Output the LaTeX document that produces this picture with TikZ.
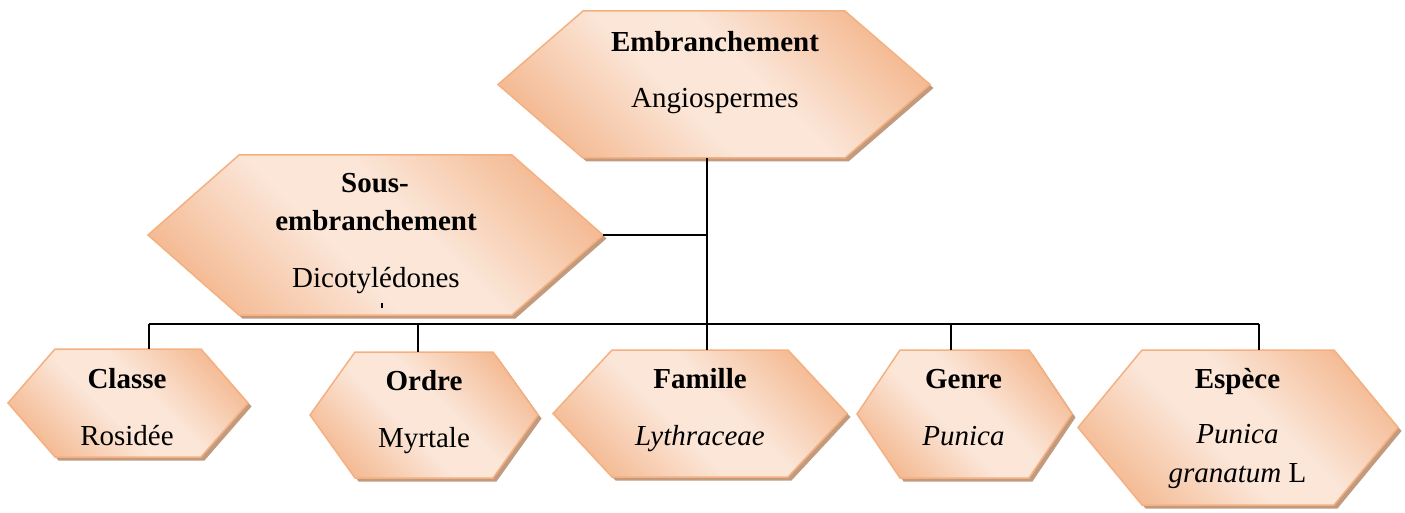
\documentclass[tikz,border=0pt]{standalone}
\usepackage{fontspec}
\setmainfont{Liberation Serif}
\usetikzlibrary{calc}
\definecolor{pdark}{HTML}{F2AE80}
\definecolor{plight}{HTML}{FBE6D8}
\definecolor{pborder}{HTML}{F4B080}
\definecolor{pshadow}{HTML}{C29A7E}
\pgfdeclarehorizontalshading{peach}{100bp}{color(0bp)=(pdark); color(18bp)=(pdark); color(44bp)=(plight); color(56bp)=(plight); color(82bp)=(pdark); color(100bp)=(pdark)}
\tikzset{
  hexbox/.style={shape=rectangle, draw=none, inner sep=0pt, outer sep=0pt},
  hexfill/.style={shading=peach, shading angle=45, draw=pborder, line width=1.5pt, line join=miter},
  shadowfill/.style={fill=pshadow, transform canvas={shift={(3.5,3.5)}}},
  link/.style={draw=black, line width=2pt},
  title/.style={anchor=base, inner sep=0pt, font=\fontsize{29}{35}\selectfont\bfseries},
  body/.style={anchor=base, inner sep=0pt, font=\fontsize{29}{35}\selectfont},
}
\newcommand\hexshape[2]{%
  \path[shadowfill] (#1.west) -- ($(#1.north west)+(#2,0)$) -- ($(#1.north east)-(#2,0)$) -- (#1.east) -- ($(#1.south east)-(#2,0)$) -- ($(#1.south west)+(#2,0)$) -- cycle;
  \path[hexfill] (#1.west) -- ($(#1.north west)+(#2,0)$) -- ($(#1.north east)-(#2,0)$) -- (#1.east) -- ($(#1.south east)-(#2,0)$) -- ($(#1.south west)+(#2,0)$) -- cycle;
}
\begin{document}
\begin{tikzpicture}[x=1pt,y=-1pt]
\useasboundingbox (0,0) rectangle (1405,513);
% hexagon boxes
\node[hexbox, minimum width=432pt, minimum height=147pt] (emb) at (714,84.5) {};
\node[hexbox, minimum width=455pt, minimum height=160pt] (sous) at (375.5,235) {};
\node[hexbox, minimum width=240pt, minimum height=108pt] (cla) at (128,403) {};
\node[hexbox, minimum width=228pt, minimum height=126pt] (ord) at (424,415) {};
\node[hexbox, minimum width=294pt, minimum height=127pt] (fam) at (700,413.5) {};
\node[hexbox, minimum width=215pt, minimum height=128pt] (gen) at (964.5,414) {};
\node[hexbox, minimum width=320pt, minimum height=155pt] (esp) at (1238,427.5) {};
\hexshape{emb}{85}
\hexshape{sous}{91}
\hexshape{cla}{47}
\hexshape{ord}{45}
\hexshape{fam}{59}
\hexshape{gen}{43}
\hexshape{esp}{64}
% connectors
\coordinate (trunk) at (707,324);
\coordinate (dcla) at (149,324);
\coordinate (dord) at (418,324);
\coordinate (dgen) at (951,324);
\coordinate (desp) at (1259,324);
\draw[link] (emb.south -| trunk) -- (trunk |- fam.north);
\draw[link] (sous.east) -- (sous.east -| trunk);
\draw[link] (dcla) -- (desp);
\draw[link] (dcla) -- (dcla |- cla.north);
\draw[link] (dord) -- (dord |- ord.north);
\draw[link] (dgen) -- (dgen |- gen.north);
\draw[link] (desp) -- (desp |- esp.north);
% texts
\node[title] (embT) at (715,52) {Embranchement};
\node[body] (embB) at (715,108) {Angiospermes};
\node[title] (sousT1) at (375,193) {Sous-};
\node[title] (sousT2) at (376,230) {embranchement};
\node[body] (sousB) at (376,287) {Dicotylédones};
\fill (381,303) rectangle (383,308);
\node[title] (claT) at (127,388) {Classe};
\node[body] (claB) at (127,445) {Rosidée};
\node[title] (ordT) at (424,390) {Ordre};
\node[body] (ordB) at (424,447) {Myrtale};
\node[title] (famT) at (700,388) {Famille};
\node[body] (famB) at (700,445) {\itshape Lythraceae};
\node[title] (genT) at (963.5,388) {Genre};
\node[body] (genB) at (963.5,445) {\itshape Punica};
\node[title] (espT) at (1237.5,388) {Espèce};
\node[body] (espB1) at (1237.5,443) {\itshape Punica};
\node[body] (espB2) at (1237.5,482) {\textit{granatum} L};
\end{tikzpicture}
\end{document}
